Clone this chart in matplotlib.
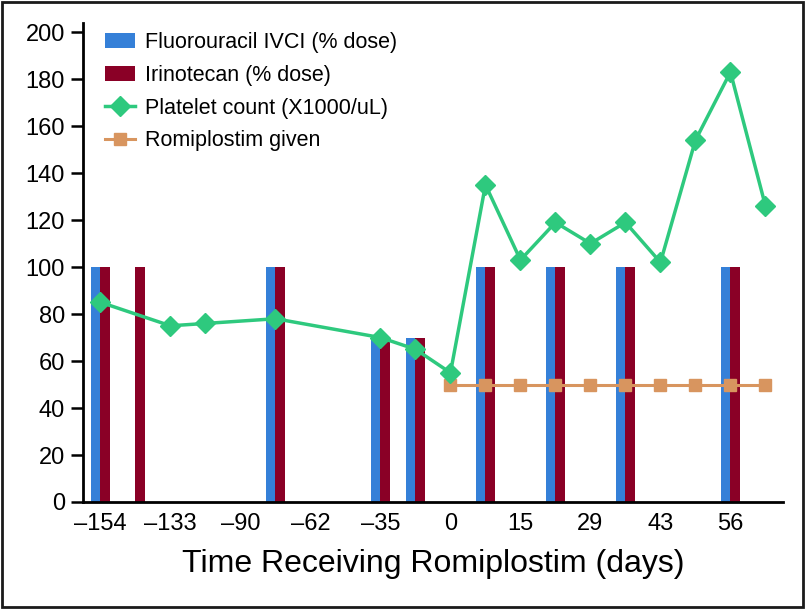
import matplotlib
matplotlib.use("Agg")
import matplotlib.pyplot as plt
from matplotlib.patches import Rectangle
import numpy as np

# Category axis: 20 time points, labels every second one
tick_labels = ["\u2013154", "\u2013133", "\u201390", "\u201362", "\u201335",
               "0", "15", "29", "43", "56"]
n_cat = 20

fluorouracil = [100, 0, 0, 0, 0, 100, 0, 0, 70, 70,
                0, 100, 0, 100, 0, 100, 0, 0, 100, 0]
irinotecan = [100, 100, 0, 0, 0, 100, 0, 0, 70, 70,
              0, 100, 0, 100, 0, 100, 0, 0, 100, 0]
platelet_idx = [0, 2, 3, 5, 8, 9, 10, 11, 12, 13, 14, 15, 16, 17, 18, 19]
platelet = [85, 75, 76, 78, 70, 65, 55, 135, 103, 119, 110, 119, 102, 154, 183, 126]
romi_idx = [10, 11, 12, 13, 14, 15, 16, 17, 18, 19]
romiplostim = [50, 50, 50, 50, 50, 50, 50, 50, 50, 50]

c_blue = "#3580d8"
c_red = "#8a0026"
c_green = "#2ec97e"
c_tan = "#d8955f"

plt.rcParams["font.family"] = ["Liberation Sans", "DejaVu Sans"]

fig = plt.figure(figsize=(8.08, 6.09), dpi=100)
ax = fig.add_axes([0.1027, 0.1757, 0.8663, 0.787])

x = np.arange(n_cat)
w = 0.28
b1 = ax.bar(x - w / 2, fluorouracil, width=w, color=c_blue, label="Fluorouracil IVCI (% dose)", zorder=2)
b2 = ax.bar(x + w / 2, irinotecan, width=w, color=c_red, label="Irinotecan (% dose)", zorder=2)
l1, = ax.plot(platelet_idx, platelet, color=c_green, lw=2.5, marker="D", ms=10.5,
              label="Platelet count (X1000/uL)", zorder=4)
l2, = ax.plot(romi_idx, romiplostim, color=c_tan, lw=2.2, marker="s", ms=8.5,
              label="Romiplostim given", zorder=3)

ax.set_xlim(-0.5, n_cat - 0.5)
ax.set_ylim(0, 204)
ax.set_yticks(np.arange(0, 201, 20))
ax.set_xticks(np.arange(0, n_cat, 2))
ax.set_xticklabels(tick_labels)
ax.tick_params(axis="x", length=0, labelsize=17, pad=8)
ax.tick_params(axis="y", length=9, width=1.8, labelsize=17, pad=4)
for s in ["top", "right"]:
    ax.spines[s].set_visible(False)
for s in ["left", "bottom"]:
    ax.spines[s].set_linewidth(2)

ax.set_xlabel("Time Receiving Romiplostim (days)", fontsize=23, labelpad=10)

leg = ax.legend([b1, b2, l1, l2],
                ["Fluorouracil IVCI (% dose)", "Irinotecan (% dose)",
                 "Platelet count (X1000/uL)", "Romiplostim given"],
                loc="upper left", bbox_to_anchor=(0.031, 0.981), frameon=False,
                fontsize=15.5, handlelength=1.4, handletextpad=0.47, labelspacing=0.55,
                borderaxespad=0, borderpad=0)

fig.patches.append(Rectangle((0.003, 0.004), 0.991, 0.992, transform=fig.transFigure,
                             fill=False, edgecolor="#1a1a1a", lw=2))

fig.savefig("out.png", dpi=100)
